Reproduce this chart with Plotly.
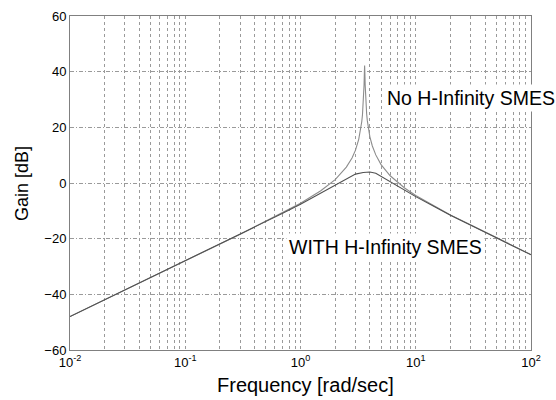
import plotly.graph_objects as go

# Frequency [rad/sec] and gain [dB]
freq_no = [0.01, 0.1, 0.3, 1.0, 1.5, 2.0, 2.5, 2.8, 3.0, 3.2, 3.3, 3.4, 3.45, 3.5, 3.53,
           3.56, 3.58, 3.6, 3.62, 3.64, 3.67, 3.7, 3.75, 3.8, 3.9, 4.0, 4.2, 4.5, 5.0,
           6.0, 8.0, 10.0, 20.0, 50.0, 100.0]
gain_no = [-48.0, -28.0, -18.4, -7.3, -2.8, 1.2, 5.7, 9.0, 11.8, 15.7, 18.3, 22.0, 24.5, 27.9, 30.9,
           35.2, 39.2, 42.2, 39.2, 35.3, 31.1, 28.2, 24.8, 22.4, 19.0, 16.6, 13.3, 10.1, 6.6,
           2.6, -1.8, -4.5, -11.5, -19.7, -25.7]

freq_with = [0.01, 0.1, 0.3, 0.5, 0.7, 1.0, 1.5, 2.0, 2.5, 3.0, 3.5, 4.0, 4.5, 5.0,
             6.0, 7.0, 8.0, 10.0, 15.0, 20.0, 50.0, 100.0]
gain_with = [-48.0, -28.0, -18.4, -13.9, -10.9, -7.6, -3.6, -0.6, 1.7, 3.2, 3.75, 3.95, 3.5, 2.4,
             0.7, -0.9, -2.3, -4.9, -8.8, -11.6, -19.7, -25.8]

x_tickvals = [0.01, 0.1, 1, 10, 100]
x_ticktext = ["10<sup>-2</sup>", "10<sup>-1</sup>", "10<sup>0</sup>", "10<sup>1</sup>", "10<sup>2</sup>"]
y_tickvals = [-60, -40, -20, 0, 20, 40, 60]

minor_vals = [m * 10.0 ** e for e in range(-2, 2) for m in range(2, 10)]

FONT = "Liberation Sans, Arial, sans-serif"
GRID = "#9a9a9a"

fig = go.Figure()
fig.add_trace(go.Scatter(x=freq_no, y=gain_no, mode="lines",
                         line=dict(color="#8c8c8c", width=1.1), showlegend=False))
fig.add_trace(go.Scatter(x=freq_with, y=gain_with, mode="lines",
                         line=dict(color="#505050", width=1.1), showlegend=False))

fig.update_xaxes(type="log", range=[-2, 2], tickvals=x_tickvals, ticktext=x_ticktext,
                 showgrid=True, gridcolor=GRID, griddash="dot", gridwidth=1,
                 minor=dict(tickvals=minor_vals, showgrid=True, gridcolor=GRID,
                            griddash="dot", gridwidth=1, ticks=""),
                 showline=True, mirror=True, linecolor="#808080", linewidth=1,
                 ticks="", zeroline=False,
                 tickfont=dict(family=FONT, size=13, color="black"))
fig.update_yaxes(range=[-60, 60], tickvals=y_tickvals,
                 showgrid=True, gridcolor=GRID, griddash="4px,2px,1px,2px", gridwidth=1,
                 showline=True, mirror=True, linecolor="#808080", linewidth=1,
                 ticks="", zeroline=False,
                 tickfont=dict(family=FONT, size=13, color="black"))

fig.update_layout(
    width=556, height=400,
    margin=dict(l=70, r=25, t=9, b=50),
    paper_bgcolor="white", plot_bgcolor="white",
    font=dict(family=FONT, color="black"),
    annotations=[
        dict(text="Frequency [rad/sec]", xref="paper", yref="paper", x=0.51, y=-0.105,
             xanchor="center", yanchor="middle", showarrow=False,
             font=dict(family=FONT, size=20, color="black")),
        dict(text="Gain [dB]", xref="paper", yref="paper", x=-0.105, y=0.4985,
             xanchor="center", yanchor="middle", showarrow=False, textangle=-90,
             font=dict(family=FONT, size=18, color="black")),
        dict(text="No H-Infinity SMES", xref="paper", yref="paper", x=0.870, y=0.7545,
             xanchor="center", yanchor="middle", showarrow=False, bgcolor="white",
             borderpad=2, font=dict(family=FONT, size=19.5, color="black")),
        dict(text="WITH H-Infinity SMES", xref="paper", yref="paper", x=0.685, y=0.308,
             xanchor="center", yanchor="middle", showarrow=False, bgcolor="white",
             borderpad=2, font=dict(family=FONT, size=19.5, color="black")),
    ],
)

fig.write_html("out.html")
